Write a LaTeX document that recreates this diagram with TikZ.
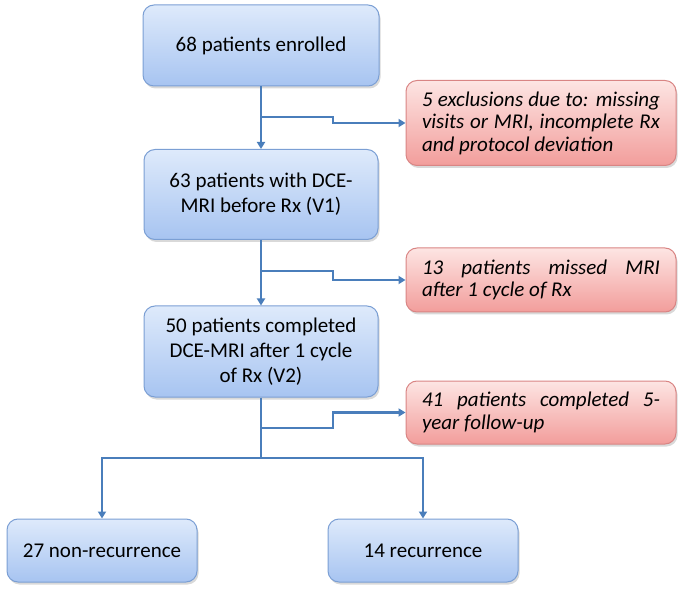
\documentclass[tikz,border=0pt]{standalone}
\usepackage{fontspec}
\setmainfont{Carlito}
\usetikzlibrary{arrows.meta,shadows}
\definecolor{boxtop}{HTML}{DEEAFB}
\definecolor{boxbot}{HTML}{A7C4F1}
\definecolor{boxline}{HTML}{7B9FD4}
\definecolor{extop}{HTML}{FDE5E3}
\definecolor{exbot}{HTML}{F29D9B}
\definecolor{exline}{HTML}{D98584}
\definecolor{linkcol}{HTML}{4A7EBB}

\begin{document}
\begin{tikzpicture}[x=1pt,y=-1pt,
  bluebox/.style={draw=boxline,line width=1pt,rounded corners=11pt,top color=boxtop,bottom color=boxbot,
    drop shadow={shadow xshift=1.5pt,shadow yshift=-2.5pt,opacity=0.3},align=center,
    font=\fontsize{21}{25}\selectfont,inner sep=2pt},
  exbox/.style={draw=exline,line width=1pt,rounded corners=11pt,top color=extop,bottom color=exbot,
    drop shadow={shadow xshift=1.5pt,shadow yshift=-2.5pt,opacity=0.3},align=justify,
    text width=238pt,inner xsep=16pt,minimum width=270pt,
    font=\fontsize{21}{22.5}\selectfont\itshape},
  link/.style={draw=linkcol,line width=2.3pt,-{Triangle[width=8pt,length=7pt]}},
  plain/.style={draw=linkcol,line width=2.3pt}]
\useasboundingbox (0,0) rectangle (685,593);
\node[bluebox,minimum width=236pt,minimum height=81pt] (enrol) at (261,45.5) {68 patients enrolled};
\node[bluebox,minimum width=234pt,minimum height=90pt] (v1) at (261,194.5) {63 patients with DCE-\\MRI before Rx (V1)};
\node[bluebox,minimum width=234pt,minimum height=91pt] (v2) at (261,351.5) {50 patients completed\\DCE-MRI after 1 cycle\\of Rx (V2)};
\node[bluebox,minimum width=190pt,minimum height=63pt] (nonrec) at (102,550.5) {27 non-recurrence};
\node[bluebox,minimum width=190pt,minimum height=63pt] (rec) at (423,550.5) {14 recurrence};
\node[exbox,minimum height=85pt] (ex1) at (541,123) {5 exclusions due to: missing\linebreak visits or MRI, incomplete Rx\linebreak and protocol deviation};
\node[exbox,minimum height=64pt] (ex2) at (541,280) {13 patients missed MRI\linebreak after 1 cycle of Rx};
\node[exbox,minimum height=63pt] (ex3) at (541,412.5) {41 patients completed 5-\linebreak year follow-up};
\coordinate (j1) at (261,117);
\coordinate (j2) at (261,271);
\coordinate (j3) at (261,428);
\coordinate (split) at (261,458);
\draw[link] (enrol) -- (v1);
\draw[link] (v1) -- (v2);
\draw[plain] (v2) -- (split);
\draw[link] (j1) -- ++(72,0) |- (ex1);
\draw[link] (j2) -- ++(72,0) |- (ex2);
\draw[link] (j3) -- ++(72,0) |- (ex3);
\draw[link] (split) -| (nonrec);
\draw[link] (split) -| (rec);
\end{tikzpicture}
\end{document}
